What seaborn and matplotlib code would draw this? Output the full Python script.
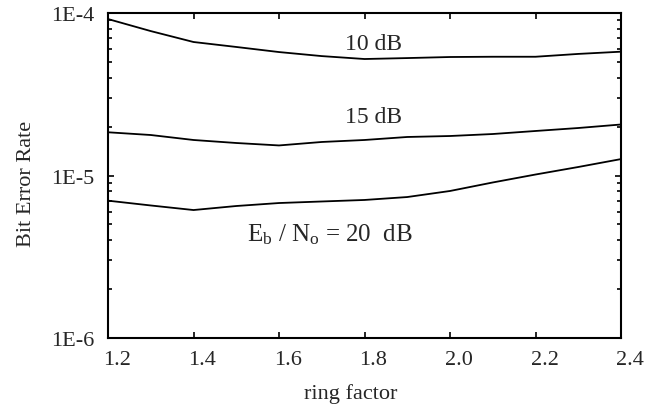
import pandas as pd
import matplotlib
matplotlib.use("Agg")
import matplotlib.pyplot as plt
import seaborn as sns
from matplotlib.ticker import FixedLocator, LogLocator, NullFormatter, FuncFormatter
from matplotlib.transforms import ScaledTranslation

# values
ring_factor = [1.2, 1.3, 1.4, 1.5, 1.6, 1.7, 1.8, 1.9, 2.0, 2.1, 2.2, 2.3, 2.4]
ber_10db = [9.18e-5, 7.74e-5, 6.63e-5, 6.18e-5, 5.75e-5, 5.43e-5, 5.21e-5,
            5.28e-5, 5.36e-5, 5.38e-5, 5.38e-5, 5.60e-5, 5.78e-5]
ber_15db = [1.845e-5, 1.775e-5, 1.654e-5, 1.585e-5, 1.531e-5, 1.608e-5, 1.654e-5,
            1.726e-5, 1.750e-5, 1.800e-5, 1.879e-5, 1.960e-5, 2.060e-5]
ber_20db = [7.00e-6, 6.54e-6, 6.13e-6, 6.49e-6, 6.77e-6, 6.92e-6, 7.07e-6,
            7.37e-6, 8.03e-6, 9.06e-6, 1.014e-5, 1.128e-5, 1.262e-5]
snr_labels = ["10 dB", "15 dB", "20 dB"]
x_ticks = [1.2, 1.4, 1.6, 1.8, 2.0, 2.2, 2.4]
y_ticks = [1e-6, 1e-5, 1e-4]
y_tick_labels = ["1E-6", "1E-5", "1E-4"]

rows = []
for snr, vals in zip(snr_labels, [ber_10db, ber_15db, ber_20db]):
    for x, v in zip(ring_factor, vals):
        rows.append({"ring factor": x, "ber": v, "snr": snr})
df = pd.DataFrame(rows)

sns.set_style("ticks")
plt.rcParams["font.family"] = ["Liberation Serif", "DejaVu Serif"]
plt.rcParams["mathtext.fontset"] = "custom"
plt.rcParams["mathtext.rm"] = "Liberation Serif"
plt.rcParams["mathtext.it"] = "Liberation Serif"

fig = plt.figure(figsize=(6.55, 4.06), dpi=100)
ax = fig.add_axes([108 / 655, 67 / 406, 513 / 655, 325 / 406])

sns.lineplot(data=df, x="ring factor", y="ber", hue="snr",
             palette=["black"] * 3, linewidth=1.3, legend=False, ax=ax)

ax.set_yscale("log")
ax.set_xlim(1.2, 2.4)
ax.set_ylim(1e-6, 1e-4)

ax.xaxis.set_major_locator(FixedLocator(x_ticks))
ax.yaxis.set_major_locator(FixedLocator(y_ticks))
ax.yaxis.set_major_formatter(FuncFormatter(lambda v, _: y_tick_labels[y_ticks.index(v)] if v in y_ticks else ""))
ax.yaxis.set_minor_locator(LogLocator(base=10, subs=range(2, 10)))
ax.yaxis.set_minor_formatter(NullFormatter())
ax.xaxis.set_major_formatter(FuncFormatter(lambda v, _: f"{v:.1f}"))

ax.tick_params(axis="both", which="both", direction="in", top=True, right=True,
               color="black", width=1.2)
ax.tick_params(axis="both", which="major", length=4, labelsize=16)
ax.tick_params(axis="y", which="minor", length=3)
ax.tick_params(axis="y", which="major", pad=10)
ax.tick_params(axis="x", which="major", pad=9)

# the tick labels sit a little right of their ticks in the original
shift = ScaledTranslation(9 / 100, 0, fig.dpi_scale_trans)
for lab in ax.get_xticklabels():
    lab.set_transform(lab.get_transform() + shift)

for s in ax.spines.values():
    s.set_linewidth(1.5)
    s.set_color("black")

ax.set_xlabel("ring factor", fontsize=16)
ax.set_ylabel("Bit Error Rate", fontsize=16)
ax.xaxis.set_label_coords(0.474, -0.140)
ax.yaxis.set_label_coords(-0.140, 0.477)

ax.text(1.82, 6.5e-5, "10 dB", fontsize=17, ha="center", va="center")
ax.text(1.82, 2.3e-5, "15 dB", fontsize=17, ha="center", va="center")
ax.text(1.525, 4.4e-6, r"E$_{\mathrm{b}}$ / N$_{\mathrm{o}}$ = 20  dB", fontsize=18,
        ha="left", va="center")

fig.savefig("out.png", dpi=100)
